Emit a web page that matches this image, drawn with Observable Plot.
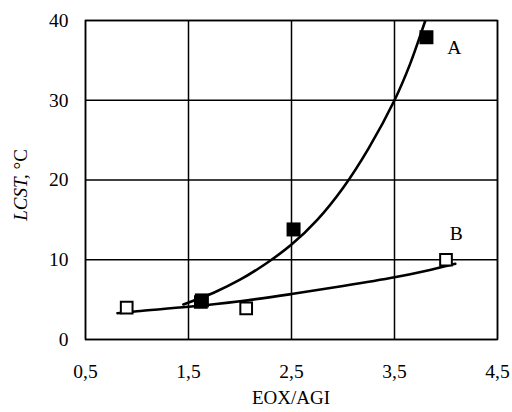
<!DOCTYPE html>
<html>
<head>
<meta charset="utf-8">
<script src="https://cdn.jsdelivr.net/npm/d3@7"></script>
<script src="https://cdn.jsdelivr.net/npm/@observablehq/plot@0.6"></script>
<style>
  html, body { margin: 0; padding: 0; background: #fff; }
  svg { display: block; }
</style>
</head>
<body>
<div id="chart"></div>
<script>
// Measured points
const seriesA_x = [1.63, 2.52, 3.81];
const seriesA_y = [4.9, 13.8, 37.9];
const seriesB_x = [0.90, 1.62, 2.06, 4.00];
const seriesB_y = [4.0, 4.7, 3.9, 10.0];
// Trend curves
const curveA_x = [1.45, 1.75, 2.0, 2.25, 2.5, 2.75, 3.0, 3.25, 3.5, 3.65, 3.8, 3.85];
const curveA_y = [4.4, 5.9, 7.5, 9.5, 11.9, 15.0, 19.0, 24.0, 30.0, 34.5, 40.0, 41.8];
const curveB_x = [0.81, 1.0, 1.5, 2.0, 2.5, 3.0, 3.5, 3.8, 4.09];
const curveB_y = [3.3, 3.55, 4.1, 4.8, 5.7, 6.7, 7.8, 8.6, 9.5];
const xTicks = [0.5, 1.5, 2.5, 3.5, 4.5];
const yTicks = [0, 10, 20, 30, 40];
const seriesLabels = ["A", "B"];
const labelX = [4.08, 4.1];
const labelY = [36.6, 13.2];

const ptsA = seriesA_x.map((x, i) => ({x, y: seriesA_y[i]}));
const ptsB = seriesB_x.map((x, i) => ({x, y: seriesB_y[i]}));
const cA = curveA_x.map((x, i) => ({x, y: curveA_y[i]}));
const cB = curveB_x.map((x, i) => ({x, y: curveB_y[i]}));
const labs = seriesLabels.map((t, i) => ({t, x: labelX[i], y: labelY[i]}));

const font = "'Liberation Serif', 'Times New Roman', serif";
const fmt = d => String(d).replace(".", ",");

const chart = Plot.plot({
  width: 512,
  height: 412,
  marginLeft: 85,
  marginRight: 15,
  marginTop: 20,
  marginBottom: 73,
  style: { fontFamily: font, fontSize: "19.5px", background: "#fff", color: "#000" },
  x: { domain: [0.5, 4.5], ticks: xTicks, tickFormat: fmt, tickSize: 0, tickPadding: 25, label: null },
  y: { domain: [0, 40], ticks: yTicks, tickSize: 0, tickPadding: 17, label: null },
  marks: [
    Plot.ruleX(xTicks, { stroke: "#000", strokeWidth: 1.5 }),
    Plot.ruleY(yTicks, { stroke: "#000", strokeWidth: 1.5 }),
    Plot.frame({ stroke: "#000", strokeWidth: 1.5 }),
    Plot.line(cB, { x: "x", y: "y", curve: "catmull-rom", stroke: "#000", strokeWidth: 2.6 }),
    Plot.line(cA, { x: "x", y: "y", curve: "catmull-rom", stroke: "#000", strokeWidth: 2.6, clip: true }),
    Plot.dot(ptsB, { x: "x", y: "y", symbol: "square", r: 6.6, fill: "#fff", stroke: "#000", strokeWidth: 2 }),
    Plot.dot(ptsA, { x: "x", y: "y", symbol: "square", r: 7.9, fill: "#000", stroke: "none" }),
    Plot.text(labs, { x: "x", y: "y", text: "t", fontSize: 19.5, fill: "#000" })
  ]
});

const svg = d3.select(chart);
svg.append("text")
  .attr("x", 291).attr("y", 404)
  .attr("text-anchor", "middle")
  .attr("font-family", font).attr("font-size", 19)
  .attr("fill", "#000")
  .text("EOX/AGI");
const yl = svg.append("text")
  .attr("transform", "translate(27,185) rotate(-90)")
  .attr("text-anchor", "middle")
  .attr("font-family", font).attr("font-size", 19)
  .attr("fill", "#000");
yl.append("tspan").attr("font-style", "italic").text("LCST,");
yl.append("tspan").text(" °C");

document.getElementById("chart").appendChild(chart);
</script>
</body>
</html>
